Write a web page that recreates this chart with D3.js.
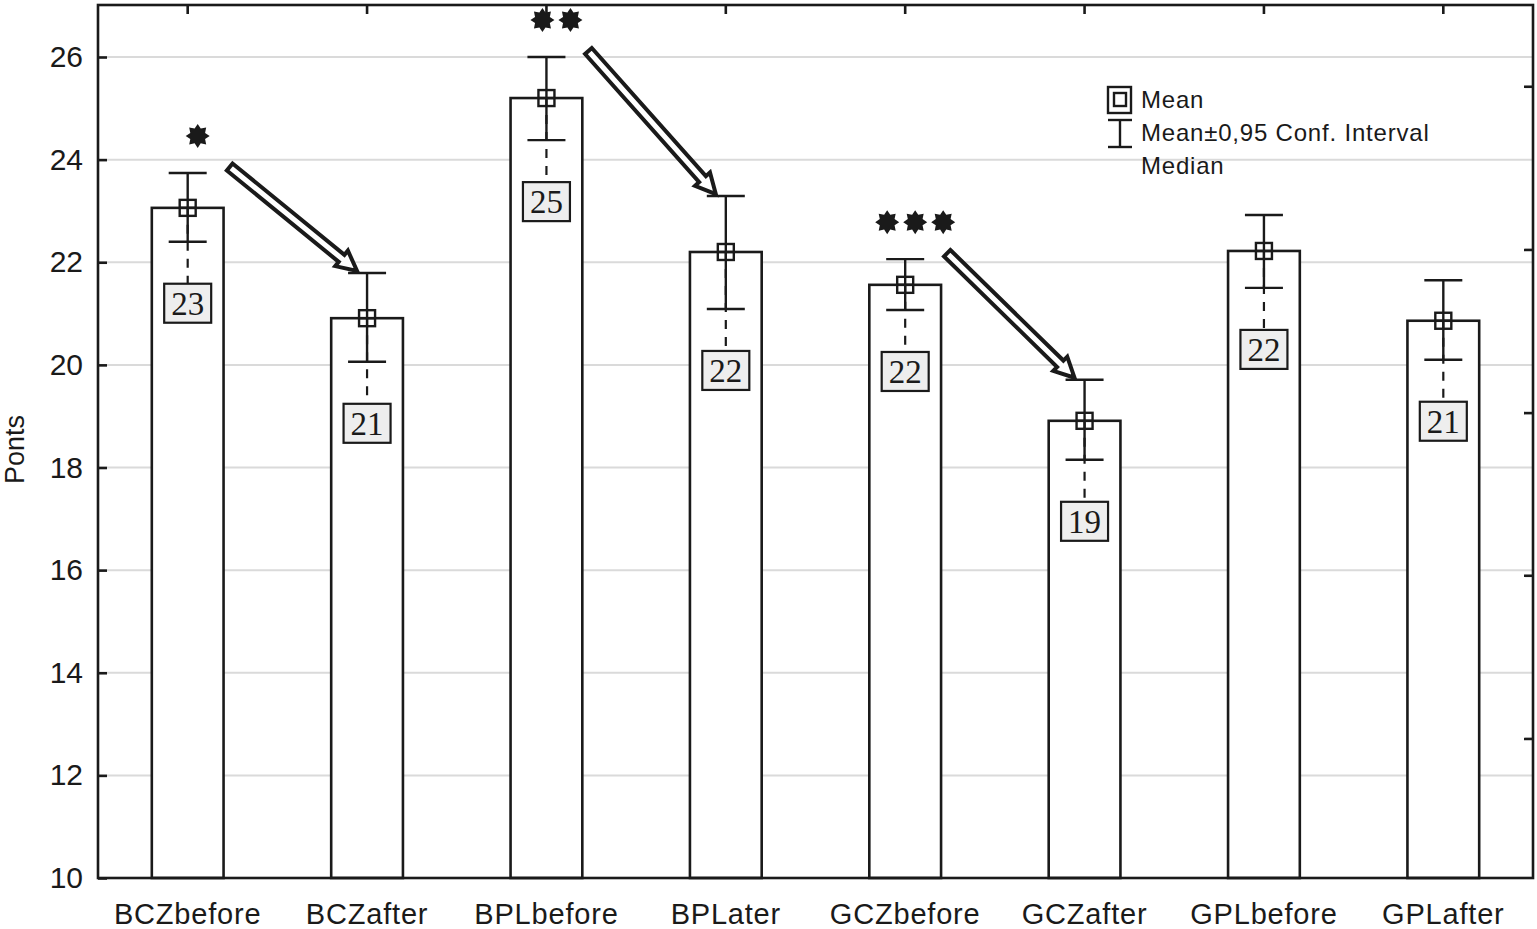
<!DOCTYPE html>
<html>
<head>
<meta charset="utf-8">
<style>
    body { margin: 0; background: #fff; }
    svg { display: block; }
    .sans { font-family: "Liberation Sans", Arial, sans-serif; fill: #1a1a1a; }
    .serif { font-family: "Liberation Serif", "Times New Roman", serif; fill: #1a1a1a; }
</style>
</head>
<body>
<svg width="1537" height="929"></svg>

<script src="https://d3js.org/d3.v7.min.js"></script>
<script>

    // values
    let groups = ["BCZbefore", "BCZafter", "BPLbefore", "BPLater", "GCZbefore", "GCZafter", "GPLbefore", "GPLafter"];
    let means = [23.06, 20.91, 25.2, 22.2, 21.56, 18.91, 22.22, 20.86];
    let ciUpper = [23.74, 21.79, 26.0, 23.29, 22.06, 19.71, 22.92, 21.65];
    let ciLower = [22.4, 20.06, 24.38, 21.09, 21.07, 18.15, 21.5, 20.1];
    let medians = [23, 21, 25, 22, 22, 19, 22, 21];
    let stars = [1, 0, 2, 0, 3, 0, 0, 0];
    let arrows = [[0, 1], [2, 3], [4, 5]];
    let yTicks = [10, 12, 14, 16, 18, 20, 22, 24, 26];
    let rightTicks = [25.42, 22.24, 19.06, 15.89, 12.71];
    let legendItems = ["Mean", "Mean\u00b10,95 Conf. Interval", "Median"];

    let width = 1537;
    let height = 929;
    let margin = { top: 5, right: 4, bottom: 51, left: 98 };

    let svg = d3.select("svg");

    let x = d3.scaleBand()
        .domain(groups)
        .range([margin.left, width - margin.right])
        .paddingInner(0.6)
        .paddingOuter(0.3);

    let y = d3.scaleLinear()
        .domain([10, 26])
        .range([height - margin.bottom, 57]);

    let pTop = margin.top;
    let pBottom = height - margin.bottom;
    let pLeft = margin.left;
    let pRight = width - margin.right;
    let cx = i => x(groups[i]) + x.bandwidth() / 2;

    // grid
    svg.append("g")
        .selectAll("line")
        .data(yTicks.filter(d => d > 10))
        .join("line")
        .attr("x1", pLeft).attr("x2", pRight)
        .attr("y1", d => y(d)).attr("y2", d => y(d))
        .style("stroke", "#dadada")
        .style("stroke-width", 2);

    // bars
    svg.append("g")
        .selectAll("rect")
        .data(means)
        .join("rect")
        .attr("x", (d, i) => x(groups[i]))
        .attr("width", x.bandwidth())
        .attr("y", d => y(d))
        .attr("height", d => pBottom - y(d))
        .style("fill", "#fff")
        .style("stroke", "#1a1a1a")
        .style("stroke-width", 2.6);

    let boxW = 47, boxH = 39, boxGap = 42;

    // dashed leader to the median label
    svg.append("g")
        .selectAll("line")
        .data(means)
        .join("line")
        .attr("x1", (d, i) => cx(i)).attr("x2", (d, i) => cx(i))
        .attr("y1", d => y(d))
        .attr("y2", (d, i) => y(ciLower[i]) + boxGap)
        .style("stroke", "#1a1a1a")
        .style("stroke-width", 2.2)
        .style("stroke-dasharray", "9,8");

    // whiskers
    let whisk = svg.append("g")
        .style("stroke", "#1a1a1a")
        .style("stroke-width", 2.4);

    groups.forEach((g, i) => {
        let c = cx(i);
        whisk.append("line")
            .attr("x1", c).attr("x2", c)
            .attr("y1", y(ciUpper[i])).attr("y2", y(ciLower[i]));
        [ciUpper[i], ciLower[i]].forEach(v => {
            whisk.append("line")
                .attr("x1", c - 19).attr("x2", c + 19)
                .attr("y1", y(v)).attr("y2", y(v));
        });
        // mean marker
        whisk.append("rect")
            .attr("x", c - 8).attr("y", y(means[i]) - 8)
            .attr("width", 16).attr("height", 16)
            .style("fill", "none");
        whisk.append("line")
            .attr("x1", c - 8).attr("x2", c + 8)
            .attr("y1", y(means[i])).attr("y2", y(means[i]));
    });

    // median labels
    let lab = svg.append("g")
        .selectAll("g")
        .data(medians)
        .join("g")
        .attr("transform", (d, i) => `translate(${cx(i)},${y(ciLower[i]) + boxGap + boxH / 2})`);

    lab.append("rect")
        .attr("x", -boxW / 2).attr("y", -boxH / 2)
        .attr("width", boxW).attr("height", boxH)
        .style("fill", "#eeeeee")
        .style("stroke", "#1a1a1a")
        .style("stroke-width", 2.2);

    lab.append("text")
        .attr("class", "serif")
        .attr("text-anchor", "middle")
        .attr("dy", "0.35em")
        .style("font-size", "33px")
        .text(d => d);

    // significance stars
    let starPath = d3.lineRadial()
        .curve(d3.curveLinearClosed)
        .angle(d => d[0])
        .radius(d => d[1]);
    let starPts = d3.range(16).map(k => [k * Math.PI / 8, k % 2 ? 8 : 12]);

    groups.forEach((g, i) => {
        let n = stars[i];
        for (let k = 0; k < n; k++) {
            let sx = cx(i) + 10 + (k - (n - 1) / 2) * 28;
            svg.append("path")
                .attr("d", starPath(starPts))
                .attr("transform", `translate(${sx},${y(ciUpper[i]) - 37})`)
                .style("fill", "#1a1a1a");
        }
    });

    // hollow arrows
    arrows.forEach(([a, b]) => {
        let x0 = cx(a) + 42, y0 = y(ciUpper[a]) - 6;
        let x1 = cx(b) - 10, y1 = y(ciUpper[b]) - 2;
        let len = Math.hypot(x1 - x0, y1 - y0);
        let ang = Math.atan2(y1 - y0, x1 - x0) * 180 / Math.PI;
        let hw = 4.5, hh = 10, hl = 20;
        let pts = [[0, -hw], [len - hl, -hw], [len - hl, -hh], [len, 0], [len - hl, hh], [len - hl, hw], [0, hw]];
        svg.append("polygon")
            .attr("points", pts.map(p => p.join(",")).join(" "))
            .attr("transform", `translate(${x0},${y0}) rotate(${ang})`)
            .style("fill", "#fff")
            .style("stroke", "#1a1a1a")
            .style("stroke-width", 4)
            .style("stroke-linejoin", "miter");
    });

    // frame
    svg.append("rect")
        .attr("x", pLeft).attr("y", pTop)
        .attr("width", pRight - pLeft).attr("height", pBottom - pTop)
        .style("fill", "none")
        .style("stroke", "#1a1a1a")
        .style("stroke-width", 2.6);

    // left axis
    let yAxis = d3.axisLeft(y)
        .tickValues(yTicks)
        .tickSizeInner(-9)
        .tickSizeOuter(0)
        .tickPadding(15);

    let ya = svg.append("g")
        .attr("transform", `translate(${pLeft},0)`)
        .call(yAxis);
    ya.select(".domain").remove();
    ya.selectAll("line").style("stroke", "#1a1a1a").style("stroke-width", 2.6);
    ya.selectAll("text")
        .attr("class", "sans")
        .style("font-size", "30px")
        .style("font-family", "'Liberation Sans', Arial, sans-serif");

    // right axis ticks (no labels)
    svg.append("g")
        .selectAll("line")
        .data(rightTicks)
        .join("line")
        .attr("x1", pRight).attr("x2", pRight - 9)
        .attr("y1", d => y(d)).attr("y2", d => y(d))
        .style("stroke", "#1a1a1a")
        .style("stroke-width", 2.6);

    // top ticks at categories
    svg.append("g")
        .selectAll("line")
        .data(groups)
        .join("line")
        .attr("x1", d => x(d) + x.bandwidth() / 2).attr("x2", d => x(d) + x.bandwidth() / 2)
        .attr("y1", pTop).attr("y2", pTop + 9)
        .style("stroke", "#1a1a1a")
        .style("stroke-width", 2.6);

    // bottom labels
    let xAxis = d3.axisBottom(x).tickSize(0).tickPadding(25);
    let xa = svg.append("g")
        .attr("transform", `translate(0,${pBottom})`)
        .call(xAxis);
    xa.select(".domain").remove();
    xa.selectAll("text")
        .attr("class", "sans")
        .style("font-size", "29px")
        .style("letter-spacing", "0.8px")
        .style("font-family", "'Liberation Sans', Arial, sans-serif");

    // y title
    svg.append("text")
        .attr("class", "sans")
        .attr("transform", `translate(24,${(pTop + pBottom) / 2 + 8}) rotate(-90)`)
        .attr("text-anchor", "middle")
        .style("font-size", "27px")
        .text("Ponts");

    // legend
    let lg = svg.append("g").attr("transform", "translate(1120,100)");
    lg.selectAll("text")
        .data(legendItems)
        .join("text")
        .attr("class", "sans")
        .attr("x", 21)
        .attr("y", (d, i) => i * 33)
        .attr("dy", "0.35em")
        .style("font-size", "24px")
        .style("letter-spacing", "0.8px")
        .text(d => d);

    lg.append("rect").attr("x", -12).attr("y", -13).attr("width", 23).attr("height", 26)
        .style("fill", "none").style("stroke", "#1a1a1a").style("stroke-width", 2.4);
    lg.append("rect").attr("x", -6).attr("y", -7).attr("width", 12).attr("height", 13)
        .style("fill", "none").style("stroke", "#1a1a1a").style("stroke-width", 2.4);
    let wl = lg.append("g").style("stroke", "#1a1a1a").style("stroke-width", 2.4);
    wl.append("line").attr("x1", 0).attr("x2", 0).attr("y1", 20).attr("y2", 47);
    wl.append("line").attr("x1", -12).attr("x2", 12).attr("y1", 20).attr("y2", 20);
    wl.append("line").attr("x1", -12).attr("x2", 12).attr("y1", 47).attr("y2", 47);

</script>
</body>
</html>
